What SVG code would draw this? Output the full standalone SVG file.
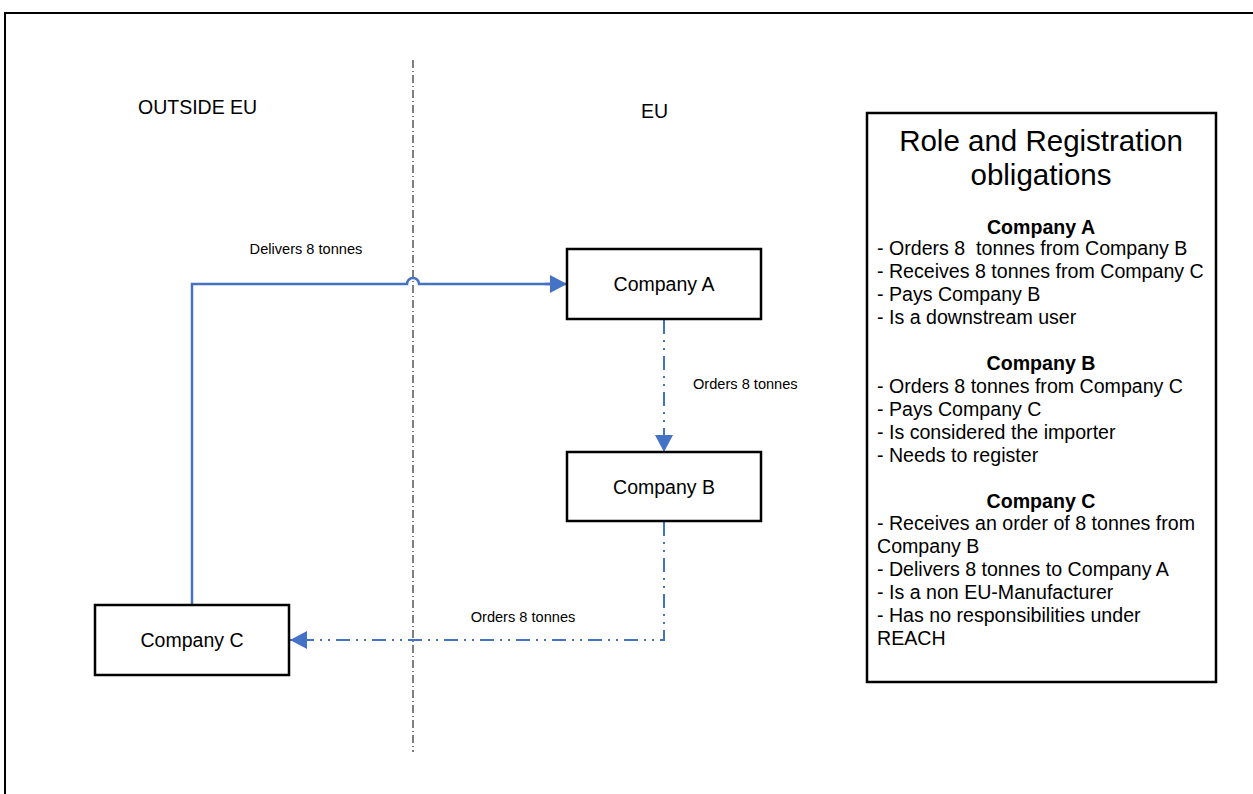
<svg xmlns="http://www.w3.org/2000/svg" width="1253" height="794" viewBox="0 0 1253 794">
<style>
.box{fill:#fff;stroke:#000;stroke-width:2.5}
.t{font-family:"Liberation Sans",Arial,sans-serif;fill:#000}
.conn{fill:none;stroke:#4472C4;stroke-width:2.5}
.dd{stroke-dasharray:14,6,2,6,2,6;stroke-width:2}
.lg{font-size:19.6px}
</style>
<defs>
<marker id="arrL" markerWidth="17" markerHeight="18" refX="17" refY="9" orient="auto" markerUnits="userSpaceOnUse" viewBox="0 0 17 18">
<path d="M0,0 L17,9 L0,18 Z" fill="#4472C4"/>
</marker>
</defs>
<rect x="0" y="0" width="1253" height="794" fill="#fff"/>
<path d="M5,800 L5,13 L1260,13" fill="none" stroke="#000" stroke-width="2"/>
<line x1="413" y1="60" x2="413" y2="752" stroke="#000" stroke-width="1" stroke-dasharray="8,3,1,3"/>
<text class="t" x="138" y="114" font-size="19.5">OUTSIDE EU</text>
<text class="t" x="641" y="118" font-size="19.5">EU</text>
<g id="connectors">
<path class="conn" d="M192,604 L192,284 L407,284 A6,6 0 0 1 419,284 L552,284"/>
<path d="M545,284 L567,284" stroke="#4472C4" stroke-width="2.5" fill="none" marker-end="url(#arrL)"/>
<path class="conn dd" d="M664,320 L664,436"/>
<path d="M664,432 L664,452" stroke="#4472C4" stroke-width="2" fill="none" marker-end="url(#arrL)"/>
<path class="conn dd" d="M664,522 L664,640 L306,640"/>
<path d="M310,640 L290,640" stroke="#4472C4" stroke-width="2" fill="none" marker-end="url(#arrL)"/>
<text class="t" x="306" y="254" font-size="14.6" text-anchor="middle">Delivers 8 tonnes</text>
<text class="t" x="693" y="389" font-size="14.6">Orders 8 tonnes</text>
<text class="t" x="523" y="622" font-size="14.6" text-anchor="middle">Orders 8 tonnes</text>
</g>
<g id="companyA">
<rect class="box" x="567" y="249" width="194" height="70"/>
<text class="t" x="664" y="291" font-size="19.5" text-anchor="middle">Company A</text>
</g>
<g id="companyB">
<rect class="box" x="567" y="452" width="194" height="69"/>
<text class="t" x="664" y="494" font-size="19.5" text-anchor="middle">Company B</text>
</g>
<g id="companyC">
<rect class="box" x="95" y="605" width="194" height="70"/>
<text class="t" x="192" y="647" font-size="19.5" text-anchor="middle">Company C</text>
</g>
<g id="legend">
<rect class="box" x="867" y="113" width="349" height="569"/>
<text class="t" x="1041" y="151" font-size="29.5" text-anchor="middle">Role and Registration</text>
<text class="t" x="1041" y="185" font-size="29.5" text-anchor="middle">obligations</text>
<g class="lg">
<text class="t lg" x="1041" y="234" text-anchor="middle" font-weight="bold">Company A</text>
<text class="t lg" x="877" y="255" xml:space="preserve">- Orders 8  tonnes from Company B</text>
<text class="t lg" x="877" y="278">- Receives 8 tonnes from Company C</text>
<text class="t lg" x="877" y="301">- Pays Company B</text>
<text class="t lg" x="877" y="324">- Is a downstream user</text>
<text class="t lg" x="1041" y="370" text-anchor="middle" font-weight="bold">Company B</text>
<text class="t lg" x="877" y="393">- Orders 8 tonnes from Company C</text>
<text class="t lg" x="877" y="416">- Pays Company C</text>
<text class="t lg" x="877" y="439">- Is considered the importer</text>
<text class="t lg" x="877" y="462">- Needs to register</text>
<text class="t lg" x="1041" y="508" text-anchor="middle" font-weight="bold">Company C</text>
<text class="t lg" x="877" y="530">- Receives an order of 8 tonnes from</text>
<text class="t lg" x="877" y="553">Company B</text>
<text class="t lg" x="877" y="576">- Delivers 8 tonnes to Company A</text>
<text class="t lg" x="877" y="599">- Is a non EU-Manufacturer</text>
<text class="t lg" x="877" y="622">- Has no responsibilities under</text>
<text class="t lg" x="877" y="645">REACH</text>
</g>
</g>
</svg>
